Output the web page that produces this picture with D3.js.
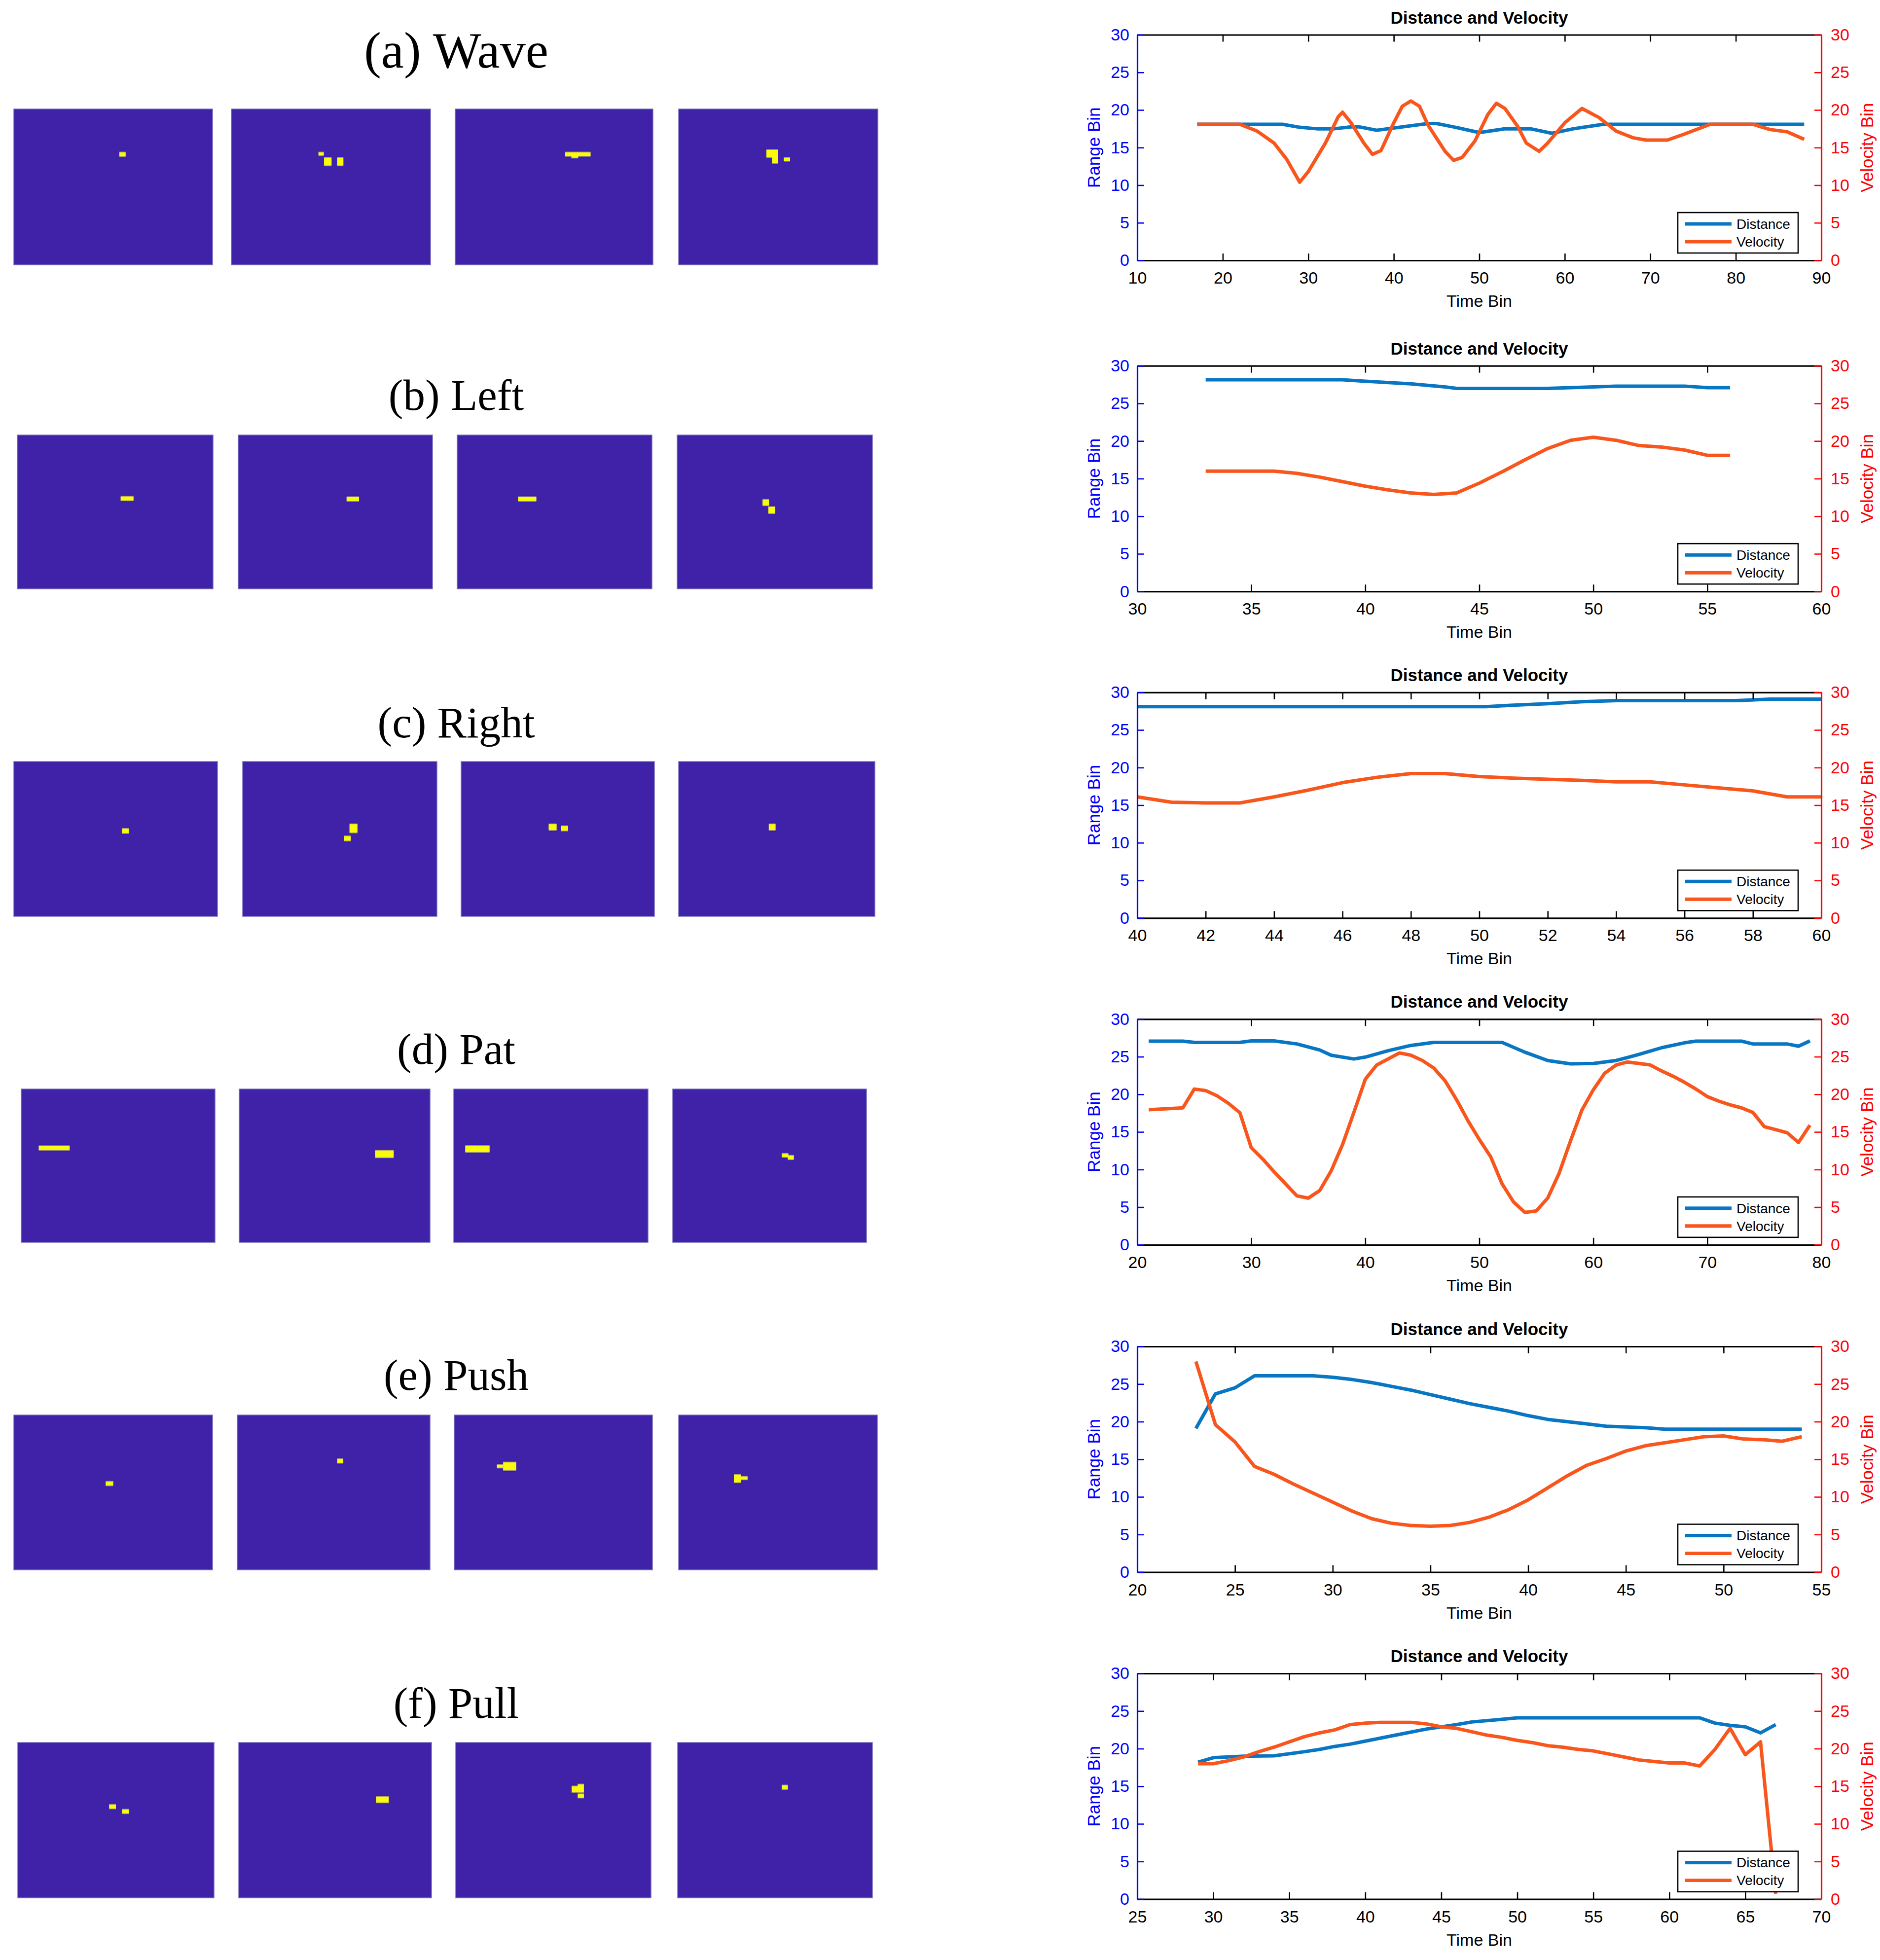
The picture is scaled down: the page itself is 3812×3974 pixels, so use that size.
<!DOCTYPE html>
<html>
<head>
<meta charset="utf-8">
<script src="https://cdn.jsdelivr.net/npm/d3@7"></script>
<style>
    body { margin: 0; background: #fff; }
</style>
</head>
<body>
<script>
/*global d3*/
"use strict";

// gesture names, one per row
var gestureTitles = ["(a) Wave", "(b) Left", "(c) Right", "(d) Pat", "(e) Push", "(f) Pull"];

// yellow spots in each frame, [col, row, colSpan, rowSpan] on a 32 x 80 grid
var waveFrames = [
    [[17, 22.3, 1, 2]],
    [[14, 22.3, 0.85, 1.5], [14.9, 25, 1.2, 4], [17, 25, 1, 4]],
    [[17.8, 22.3, 4.1, 1.8], [18.8, 24, 1.1, 1]],
    [[14.1, 21, 1.9, 3.8], [15, 24.8, 1, 3], [16.9, 25, 1, 1.6]]
];
var leftFrames = [
    [[16.9, 32, 2.1, 2]],
    [[17.85, 32.3, 2.05, 2]],
    [[10, 32.3, 3, 2]],
    [[14, 33.6, 1.05, 3], [14.95, 37.4, 1.1, 3.3]]
];
var rightFrames = [
    [[17, 34.7, 1.05, 2.3]],
    [[17.6, 32.4, 1.3, 4.3], [16.7, 38.6, 1.1, 2.3]],
    [[14.5, 32.4, 1.3, 3], [16.5, 33.4, 1.2, 2.3]],
    [[14.7, 32.4, 1.1, 3]]
];
var patFrames = [
    [[2.9, 29.8, 5.1, 2]],
    [[22.8, 32.1, 3.1, 3.6]],
    [[1.9, 29.6, 4, 3.3]],
    [[18, 33.7, 1.1, 1.8], [19, 34.7, 1, 2]]
];
var pushFrames = [
    [[14.8, 34.4, 1.2, 2]],
    [[16.6, 22.7, 1, 2]],
    [[7.9, 24.5, 2.1, 4], [6.9, 25.7, 1, 1.5]],
    [[8.9, 30.8, 1.1, 4], [10, 31.8, 1.1, 1.5]]
];
var pullFrames = [
    [[14.9, 32, 1.1, 2], [17, 34.5, 1.1, 2]],
    [[22.8, 27.9, 2.1, 3]],
    [[19, 22.6, 2, 3], [20, 21.6, 1, 1], [20, 26.6, 1, 1.8]],
    [[17.1, 22.1, 1, 2]]
];

// distance / velocity traces, [time bin, value]
var waveDistance = [[17, 18.1], [27, 18.1], [29, 17.7], [31, 17.5], [33, 17.5], [35, 17.75], [36, 17.75], [38, 17.3],
    [41, 17.75], [44, 18.2], [45, 18.2], [47, 17.75], [50, 17.0], [53, 17.5], [56, 17.5], [58.5, 16.9], [61, 17.5],
    [64.5, 18.1], [88, 18.1]];
var waveVelocity = [[17, 18.1], [22, 18.1], [24, 17.2], [26, 15.6], [27.5, 13.4], [29, 10.4], [30, 11.8], [32, 15.6],
    [33.5, 19.1], [34, 19.7], [35, 18.3], [36.5, 15.6], [37.5, 14.1], [38.5, 14.6], [40, 18.3], [41, 20.5], [42, 21.2],
    [43, 20.5], [44, 18.0], [46, 14.5], [47, 13.3], [48, 13.7], [49.5, 15.9], [51, 19.4], [52, 20.9], [53, 20.2],
    [54.5, 17.8], [55.5, 15.6], [57, 14.5], [58, 15.6], [60, 18.3], [62, 20.2], [64, 19.0], [66, 17.2], [68, 16.3],
    [69.5, 16.0], [72, 16.0], [74, 16.8], [77, 18.1], [82, 18.1], [84, 17.4], [86, 17.1], [88, 16.1]];

var leftDistance = [[33, 28.15], [39, 28.15], [40, 27.95], [42, 27.6], [43.5, 27.2], [44, 27.0], [48, 27.0], [49, 27.1],
    [50, 27.2], [51, 27.3], [54, 27.3], [55, 27.1], [56, 27.1]];
var leftVelocity = [[33, 16.0], [36, 16.0], [37, 15.7], [38, 15.2], [39, 14.6], [40, 14.0], [41, 13.5], [42, 13.1],
    [43, 12.9], [44, 13.1], [45, 14.4], [46, 15.9], [47, 17.5], [48, 19.0], [49, 20.1], [50, 20.5], [51, 20.1],
    [52, 19.4], [53, 19.2], [54, 18.8], [55, 18.1], [56, 18.1]];

var rightDistance = [[40, 28.1], [50.2, 28.1], [51, 28.3], [52, 28.5], [53, 28.75], [54, 28.9], [57.5, 28.9],
    [58.5, 29.1], [60, 29.1]];
var rightVelocity = [[40, 16.1], [41, 15.4], [42, 15.3], [43, 15.3], [44, 16.1], [45, 17.0], [46, 18.0], [47, 18.7],
    [48, 19.2], [49, 19.2], [50, 18.8], [51, 18.6], [52, 18.45], [53, 18.3], [54, 18.1], [55, 18.1], [56, 17.7],
    [57, 17.3], [58, 16.9], [59, 16.1], [60, 16.1]];

var patDistance = [[21, 27.07], [24, 27.07], [25, 26.9], [29, 26.9], [30, 27.1], [32, 27.1], [34, 26.7], [36, 25.9],
    [37, 25.2], [39, 24.7], [40, 24.95], [42, 25.8], [44, 26.5], [46, 26.9], [52, 26.9], [54, 25.6], [56, 24.5],
    [58, 24.05], [60, 24.1], [62, 24.5], [64, 25.3], [66, 26.2], [68, 26.85], [69, 27.07], [73, 27.07], [74, 26.7],
    [77, 26.7], [78, 26.4], [79, 27.1]];
var patVelocity = [[21, 17.95], [24, 18.2], [25, 20.7], [26, 20.5], [27, 19.8], [28, 18.8], [29, 17.55], [30, 12.9],
    [31, 11.4], [32, 9.7], [33, 8.1], [34, 6.5], [35, 6.2], [36, 7.2], [37, 9.8], [38, 13.3], [39, 17.6], [40, 22.0],
    [41, 23.9], [42, 24.7], [43, 25.5], [44, 25.2], [45, 24.5], [46, 23.5], [47, 21.8], [48, 19.3], [49, 16.5],
    [50, 14.0], [51, 11.7], [52, 8.1], [53, 5.7], [54, 4.3], [55, 4.5], [56, 6.2], [57, 9.5], [58, 13.8], [59, 17.9],
    [60, 20.6], [61, 22.8], [62, 23.9], [63, 24.3], [64, 24.1], [65, 23.9], [66, 23.1], [67, 22.4], [68, 21.6],
    [69, 20.7], [70, 19.7], [71, 19.1], [72, 18.6], [73, 18.2], [74, 17.6], [75, 15.7], [76, 15.3], [77, 14.9],
    [78, 13.6], [79, 15.9]];

var pushDistance = [[23, 19.1], [24, 23.7], [25, 24.5], [26, 26.1], [29, 26.1], [30, 25.9], [31, 25.6], [32, 25.2],
    [33, 24.7], [34, 24.2], [35, 23.6], [36, 23.0], [37, 22.4], [38, 21.9], [39, 21.4], [40, 20.8], [41, 20.3],
    [42, 20.0], [43, 19.7], [44, 19.4], [45, 19.3], [46, 19.2], [47, 19.0], [54, 19.0]];
var pushVelocity = [[23, 28.0], [24, 19.6], [25, 17.3], [26, 14.05], [27, 13.0], [28, 11.7], [29, 10.5], [30, 9.3],
    [31, 8.1], [32, 7.1], [33, 6.5], [34, 6.2], [35, 6.1], [36, 6.2], [37, 6.6], [38, 7.3], [39, 8.3], [40, 9.6],
    [41, 11.2], [42, 12.8], [43, 14.2], [44, 15.1], [45, 16.1], [46, 16.8], [47, 17.2], [48, 17.6], [49, 18.0],
    [50, 18.1], [51, 17.7], [52, 17.6], [53, 17.4], [54, 18.0]];

var pullDistance = [[29, 18.2], [30, 18.8], [32, 19.0], [34, 19.05], [36, 19.6], [37, 19.9], [38, 20.3], [39, 20.6],
    [40, 21.0], [42, 21.8], [44, 22.6], [46, 23.2], [47, 23.55], [49, 23.9], [50, 24.1], [62, 24.1], [63, 23.4],
    [64, 23.1], [65, 22.9], [66, 22.1], [67, 23.2]];
var pullVelocity = [[29, 18.0], [30, 18.0], [31, 18.4], [32, 18.9], [33, 19.6], [34, 20.2], [35, 20.9], [36, 21.6],
    [37, 22.1], [38, 22.5], [39, 23.2], [40, 23.4], [41, 23.5], [43, 23.5], [44, 23.3], [45, 22.9], [46, 22.7],
    [47, 22.25], [48, 21.8], [49, 21.5], [50, 21.1], [51, 20.8], [52, 20.4], [53, 20.2], [54, 19.9], [55, 19.7],
    [56, 19.3], [57, 18.9], [58, 18.5], [59, 18.3], [60, 18.1], [61, 18.1], [62, 17.7], [63, 19.9], [64, 22.7],
    [65, 19.2], [66, 20.9], [67, 0.7]];

// axis settings
var timeDomains = [[10, 90], [30, 60], [40, 60], [20, 80], [20, 55], [25, 70]];
var timeSteps = [10, 5, 2, 10, 5, 5];
var binTicks = [0, 5, 10, 15, 20, 25, 30];
var seriesNames = ["Distance", "Velocity"];

var allFrames = [waveFrames, leftFrames, rightFrames, patFrames, pushFrames, pullFrames];
var allDistance = [waveDistance, leftDistance, rightDistance, patDistance, pushDistance, pullDistance];
var allVelocity = [waveVelocity, leftVelocity, rightVelocity, patVelocity, pushVelocity, pullVelocity];

// ---- layout (pixels) ----
var panelRows = [
    {y: [221, 537], x: [[28, 431], [469, 873], [923, 1324], [1376, 1780]]},
    {y: [882, 1194], x: [[35, 432], [483, 877], [927, 1322], [1373, 1769]]},
    {y: [1544, 1858], x: [[28, 441], [492, 886], [935, 1327], [1376, 1774]]},
    {y: [2208, 2519], x: [[43, 436], [485, 872], [920, 1314], [1364, 1757]]},
    {y: [2869, 3183], x: [[28, 431], [481, 872], [921, 1323], [1376, 1779]]},
    {y: [3533, 3848], x: [[36, 434], [484, 875], [924, 1320], [1374, 1769]]}
];
var titleBaselines = [137, 831, 1495, 2157, 2818, 3483];
var chartTops = [70.5, 741.7, 1403.8, 2066.3, 2730, 3393];
var chartLeft = 2306,
    chartRight = 3693,
    chartHeight = 457.5;

var PURPLE = "rgb(64,34,168)",
    YELLOW = "rgb(250,250,12)",
    BLUE_LINE = "#0876C2",
    ORANGE_LINE = "#F8561C",
    SANS = "'Liberation Sans', Arial, Helvetica, sans-serif";

var svg = d3.select("body").append("svg")
    .attr("width", 3812)
    .attr("height", 3974)
    .style("display", "block");

svg.append("rect").attr("width", 3812).attr("height", 3974).attr("fill", "#fff");

//left side: gesture title and four frames
function drawGesture(i) {
    var row = panelRows[i],
        g = svg.append("g").attr("class", "gesture");

    g.append("text")
        .attr("x", 925)
        .attr("y", titleBaselines[i])
        .attr("text-anchor", "middle")
        .style("font-family", "'Liberation Serif', 'Times New Roman', serif")
        .style("font-size", (i === 0 ? 104 : 89) + "px")
        .attr("fill", "#000")
        .text(gestureTitles[i]);

    row.x.forEach(function (xr, k) {
        var col = d3.scaleLinear().domain([0, 32]).range(xr),
            rw = d3.scaleLinear().domain([0, 80]).range(row.y),
            frame = g.append("g");

        frame.append("rect")
            .attr("x", xr[0])
            .attr("y", row.y[0])
            .attr("width", xr[1] - xr[0])
            .attr("height", row.y[1] - row.y[0])
            .attr("fill", PURPLE)
            .attr("stroke", "rgb(120,112,190)")
            .attr("stroke-width", 1.5);

        // soft rims round each spot, like the scaled image
        frame.selectAll("rect.rim")
            .data(allFrames[i][k])
            .enter().append("rect")
            .attr("class", "rim")
            .attr("x", function (d) { return col(d[0]); })
            .attr("y", function (d) { return rw(d[1] - 0.9); })
            .attr("width", function (d) { return col(d[2]) - col(0); })
            .attr("height", function (d) { return rw(d[3] + 1.8) - rw(0); })
            .attr("fill", "rgb(44,28,196)");

        frame.selectAll("rect.edge")
            .data(allFrames[i][k])
            .enter().append("rect")
            .attr("class", "edge")
            .attr("x", function (d) { return col(d[0]); })
            .attr("y", function (d) { return rw(d[1] - 0.4); })
            .attr("width", function (d) { return col(d[2]) - col(0); })
            .attr("height", function (d) { return rw(d[3] + 0.8) - rw(0); })
            .attr("fill", "rgb(160,148,110)");

        frame.selectAll("rect.spot")
            .data(allFrames[i][k])
            .enter().append("rect")
            .attr("class", "spot")
            .attr("x", function (d) { return col(d[0]); })
            .attr("y", function (d) { return rw(d[1]); })
            .attr("width", function (d) { return col(d[2]) - col(0); })
            .attr("height", function (d) { return rw(d[3]) - rw(0); })
            .attr("fill", YELLOW);
    });
}

function styleAxis(sel, color, fontSize) {
    sel.select(".domain").attr("stroke", color).attr("stroke-width", 3.2);
    sel.selectAll(".tick line").attr("stroke", color).attr("stroke-width", 2.6);
    sel.selectAll(".tick text")
        .attr("fill", color)
        .style("font-family", SANS)
        .style("font-size", fontSize + "px");
}

//right side: distance and velocity chart
function drawChart(i) {
    var top = chartTops[i],
        bottom = top + chartHeight,
        dom = timeDomains[i],
        g = svg.append("g").attr("class", "chart"),
        x = d3.scaleLinear().domain(dom).range([chartLeft, chartRight]),
        yL = d3.scaleLinear().domain([0, 30]).range([bottom, top]),
        yR = d3.scaleLinear().domain([0, 30]).range([bottom, top]),
        xTicks = d3.range(dom[0], dom[1] + 0.001, timeSteps[i]),
        lineL = d3.line().x(function (d) { return x(d[0]); }).y(function (d) { return yL(d[1]); }),
        lineR = d3.line().x(function (d) { return x(d[0]); }).y(function (d) { return yR(d[1]); }),
        lg,
        lx = chartRight - 291,
        ly = bottom - 97;

    g.append("rect")
        .attr("x", chartLeft).attr("y", top)
        .attr("width", chartRight - chartLeft).attr("height", chartHeight)
        .attr("fill", "#fff");

    g.append("path")
        .datum(allDistance[i])
        .attr("d", lineL)
        .attr("fill", "none")
        .attr("stroke", BLUE_LINE)
        .attr("stroke-width", 7)
        .attr("stroke-linejoin", "round");

    g.append("path")
        .datum(allVelocity[i])
        .attr("d", lineR)
        .attr("fill", "none")
        .attr("stroke", ORANGE_LINE)
        .attr("stroke-width", 7)
        .attr("stroke-linejoin", "round");

    //axes, matlab style box with ticks inside
    g.append("g")
        .attr("transform", "translate(0," + top + ")")
        .call(d3.axisTop(x).tickValues(xTicks).tickSizeInner(-14).tickSizeOuter(0).tickFormat(""))
        .call(styleAxis, "#000", 34);

    g.append("g")
        .attr("transform", "translate(0," + bottom + ")")
        .call(d3.axisBottom(x).tickValues(xTicks).tickSizeInner(-14).tickSizeOuter(0).tickPadding(23)
            .tickFormat(d3.format("d")))
        .call(styleAxis, "#000", 34);

    g.append("g")
        .attr("transform", "translate(" + chartLeft + ",0)")
        .call(d3.axisLeft(yL).tickValues(binTicks).tickSizeInner(-14).tickSizeOuter(0).tickPadding(16))
        .call(styleAxis, "#0000ff", 34);

    g.append("g")
        .attr("transform", "translate(" + chartRight + ",0)")
        .call(d3.axisRight(yR).tickValues(binTicks).tickSizeInner(-14).tickSizeOuter(0).tickPadding(19))
        .call(styleAxis, "#ff0000", 34);

    g.selectAll(".domain").attr("fill", "none");
    g.selectAll("text").attr("font-family", null);

    //titles and labels
    g.append("text")
        .attr("x", (chartLeft + chartRight) / 2)
        .attr("y", top - 23)
        .attr("text-anchor", "middle")
        .style("font-family", SANS)
        .style("font-weight", "bold")
        .style("font-size", "35px")
        .text("Distance and Velocity");

    g.append("text")
        .attr("x", (chartLeft + chartRight) / 2)
        .attr("y", bottom + 94)
        .attr("text-anchor", "middle")
        .style("font-family", SANS)
        .style("font-size", "34px")
        .text("Time Bin");

    g.append("text")
        .attr("transform", "translate(" + (chartLeft - 88) + "," + ((top + bottom) / 2) + ") rotate(-90)")
        .attr("text-anchor", "middle")
        .attr("dy", "0.35em")
        .attr("fill", "#0000ff")
        .style("font-family", SANS)
        .style("font-size", "35px")
        .text("Range Bin");

    g.append("text")
        .attr("transform", "translate(" + (chartRight + 93) + "," + ((top + bottom) / 2) + ") rotate(-90)")
        .attr("text-anchor", "middle")
        .attr("dy", "0.35em")
        .attr("fill", "#ff0000")
        .style("font-family", SANS)
        .style("font-size", "35px")
        .text("Velocity Bin");

    //legend
    lg = g.append("g").attr("class", "legend");
    lg.append("rect")
        .attr("x", lx).attr("y", ly)
        .attr("width", 244).attr("height", 82)
        .attr("fill", "#fff")
        .attr("stroke", "#000")
        .attr("stroke-width", 2.6);

    seriesNames.forEach(function (name, k) {
        var yy = ly + 23 + k * 36;
        lg.append("line")
            .attr("x1", lx + 15).attr("x2", lx + 109)
            .attr("y1", yy).attr("y2", yy)
            .attr("stroke", k === 0 ? BLUE_LINE : ORANGE_LINE)
            .attr("stroke-width", 7);
        lg.append("text")
            .attr("x", lx + 119)
            .attr("y", yy)
            .attr("dy", "0.35em")
            .style("font-family", SANS)
            .style("font-size", "28px")
            .text(name);
    });
}

gestureTitles.forEach(function (t, i) {
    drawGesture(i);
    drawChart(i);
});
</script>
</body>
</html>
